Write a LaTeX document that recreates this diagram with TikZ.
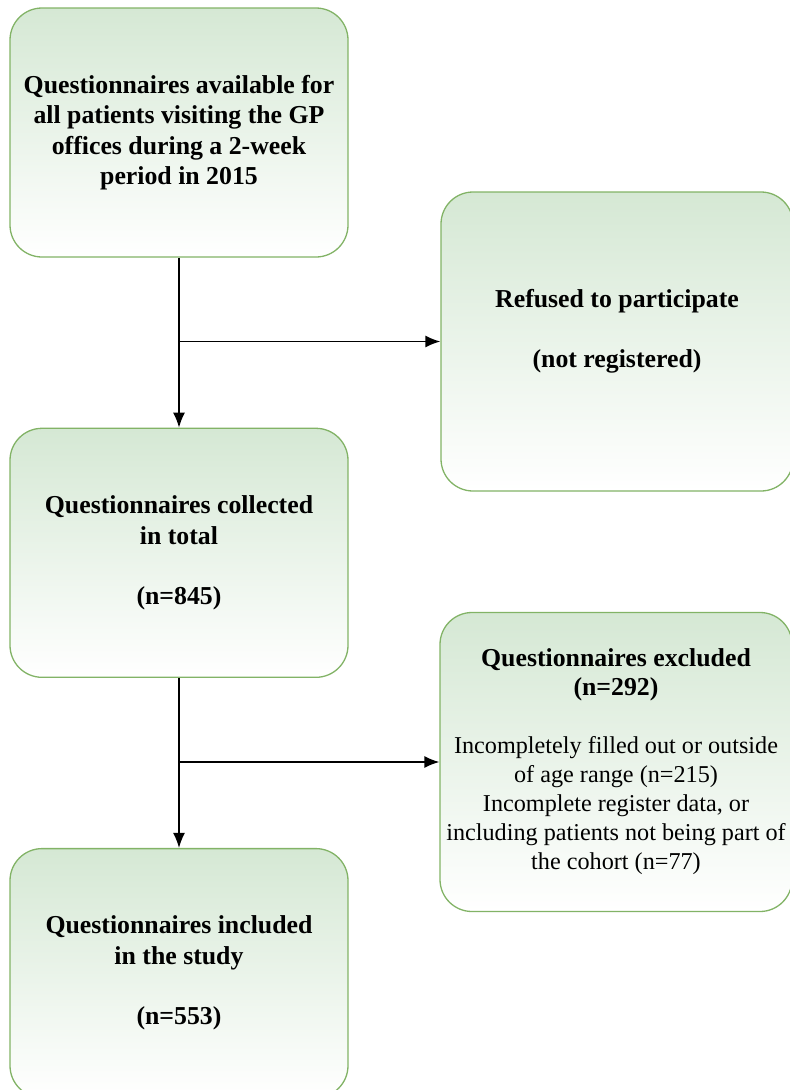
\documentclass[tikz,border=0pt]{standalone}
\usepackage{fontspec}
\setmainfont{Liberation Serif}
\usetikzlibrary{positioning,arrows.meta}
\definecolor{boxfill}{HTML}{D5E8D4}
\definecolor{boxline}{HTML}{82B366}

\begin{document}
\begin{tikzpicture}[
  x=1pt, y=-1pt,
  node distance=170pt,
  flowbox/.style={draw=boxline,line width=1.3pt,rounded corners=32pt,top color=boxfill,bottom color=white,minimum width=338pt,minimum height=249pt,align=center,font=\fontsize{25.8}{30.5}\selectfont\bfseries},
  sidebox/.style={flowbox,minimum width=352pt,minimum height=299pt},
  flowarrow/.style={line width=1.5pt,-{Latex[length=15pt,width=12pt]}}
]
\useasboundingbox (0,0) rectangle (790,1090);
\node[flowbox] (avail) at (179,132.5) {Questionnaires available for\\all patients visiting the GP\\offices during a 2-week\\period in 2015};
\node[flowbox,below=of avail] (collected) {Questionnaires collected\\in total\\[30pt](n=845)};
\node[flowbox,below=of collected] (included) {Questionnaires included\\in the study\\[30pt](n=553)};
\node[sidebox,text depth=26pt] (refused) at (617,341.5) {Refused to participate\\[30pt](not registered)};
\node[sidebox,font=\fontsize{24.2}{29}\selectfont] (excluded) at (616,762) {\textbf{\fontsize{25.8}{29}\selectfont Questionnaires excluded}\\\textbf{\fontsize{25.8}{29}\selectfont (n=292)}\\[29pt]Incompletely filled out or outside\\of age range (n=215)\\Incomplete register data, or\\\makebox[300pt]{including patients not being part of}\\the cohort (n=77)};
\coordinate (split1) at (avail.south |- refused.west);
\coordinate (split2) at (collected.south |- excluded.west);
\path (avail) edge[flowarrow] (collected);
\path (collected) edge[flowarrow] (included);
\path (split1) edge[flowarrow] (refused);
\path (split2) edge[flowarrow] (excluded);
\end{tikzpicture}
\end{document}
